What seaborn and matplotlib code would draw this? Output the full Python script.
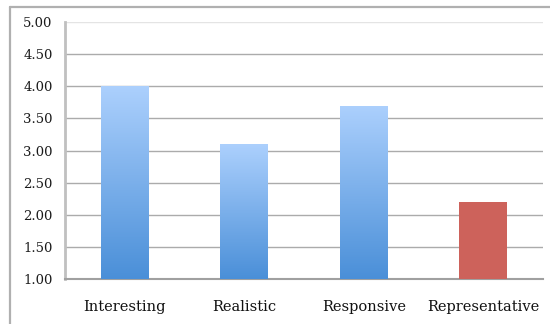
import numpy as np
import pandas as pd
import matplotlib
matplotlib.use("Agg")
import matplotlib.pyplot as plt
import seaborn as sns
from matplotlib.colors import LinearSegmentedColormap
from matplotlib.lines import Line2D

categories = ["Interesting", "Realistic", "Responsive", "Representative"]
values = [4.00, 3.10, 3.70, 2.20]
yticks = [1.00, 1.50, 2.00, 2.50, 3.00, 3.50, 4.00, 4.50, 5.00]

sns.set_style("white")
plt.rcParams["font.family"] = ["DejaVu Serif"]

df = pd.DataFrame({"cat": categories, "val": values})

fig = plt.figure(figsize=(5.5, 3.24), dpi=100)
ax = fig.add_axes([65/550, 1-279/324, (543-65)/550, (279-22)/324])

palette = ["#7aafe9", "#7aafe9", "#7aafe9", "#cd625b"]
sns.barplot(data=df, x="cat", y="val", hue="cat", palette=palette, legend=False,
            width=0.4, saturation=1, ax=ax, zorder=3, edgecolor="none")

ax.set_ylim(1.0, 5.0)
ax.set_xlim(-0.5, 3.5)

# gradient fill for first three bars
cmap = LinearSegmentedColormap.from_list("g", ["#4a8fd8", "#acd0fd"])
grad = np.linspace(0, 1, 256).reshape(-1, 1)
for i, p in enumerate(ax.patches[:3]):
    x0 = p.get_x(); w = p.get_width(); h = p.get_height()
    p.set_facecolor("none")
    im = ax.imshow(grad, cmap=cmap, origin="lower", aspect="auto",
                   extent=[x0, x0 + w, 1.0, h], zorder=3)
    im.set_clip_path(p)

ax.set_yticks(yticks)
ax.set_yticklabels([f"{v:.2f}" for v in yticks])
ax.yaxis.grid(True, color="#ababab", linewidth=1.0, zorder=0)
ax.get_ygridlines()[-1].set_color("#e4e4e4")
ax.set_axisbelow(True)
ax.set_xlabel("")
ax.set_ylabel("")

for s in ["top", "right"]:
    ax.spines[s].set_visible(False)
ax.spines["left"].set_color("#c0c0c0")
ax.spines["left"].set_linewidth(2.0)
ax.spines["bottom"].set_color("#a0a0a0")
ax.spines["bottom"].set_linewidth(1.5)

ax.tick_params(axis="y", length=4, color="#b0b0b0", width=1, labelsize=9.5, pad=5, labelcolor="#1a1a1a")
ax.tick_params(axis="x", which="major", length=0, labelsize=10.5, pad=15, labelcolor="#111111")
ax.set_xticks([-0.5, 0.5, 1.5, 2.5, 3.5], minor=True)
ax.tick_params(axis="x", which="minor", length=4, color="#b0b0b0", width=1)

# outer chart border (only left and top edges fall inside the image)
ytop = 1 - 7/324
xl = 9.5/550
fig.add_artist(Line2D([xl, 1.0], [ytop, ytop], transform=fig.transFigure, color="#b0b0b0", linewidth=1.6))
fig.add_artist(Line2D([xl, xl], [0.0, ytop], transform=fig.transFigure, color="#b0b0b0", linewidth=1.6))

fig.savefig("out.png", dpi=100)
